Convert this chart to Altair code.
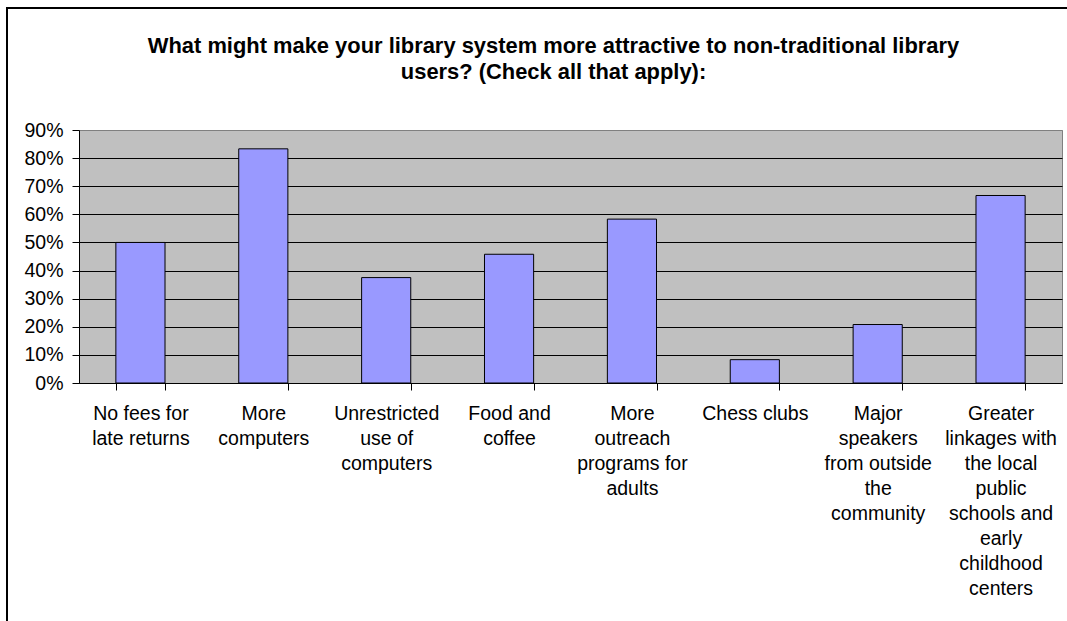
import altair as alt
import pandas as pd

categories = [
    "No fees for\nlate returns",
    "More\ncomputers",
    "Unrestricted\nuse of\ncomputers",
    "Food and\ncoffee",
    "More\noutreach\nprograms for\nadults",
    "Chess clubs",
    "Major\nspeakers\nfrom outside\nthe\ncommunity",
    "Greater\nlinkages with\nthe local\npublic\nschools and\nearly\nchildhood\ncenters",
]
shares = [0.50, 0.833, 0.375, 0.458, 0.583, 0.083, 0.208, 0.667]
y_ticks = [0, 0.1, 0.2, 0.3, 0.4, 0.5, 0.6, 0.7, 0.8, 0.9]
title_lines = [
    "What might make your library system more attractive to non-traditional library",
    "users? (Check all that apply):",
]

df = pd.DataFrame({"category": categories, "share": shares})

FONT = "Liberation Sans"
W, H = 983, 253

bars = alt.Chart(df).mark_bar(
    color="#9999FF", stroke="black", strokeWidth=1
).encode(
    x=alt.X(
        "category:N",
        sort=None,
        title=None,
        scale=alt.Scale(paddingInner=0.6, paddingOuter=0.3),
        axis=alt.Axis(
            labelAngle=0,
            labelExpr="split(datum.label, '\\n')",
            labelBaseline="top",
            labelAlign="center",
            labelLineHeight=25,
            labelPadding=14,
            labelLimit=0,
            tickBand="extent",
            tickSize=7,
            grid=False,
        ),
    ),
    y=alt.Y(
        "share:Q",
        title=None,
        scale=alt.Scale(domain=[0, 0.9], nice=False),
        axis=alt.Axis(
            values=y_ticks,
            format=".0%",
            tickSize=7,
            labelPadding=9,
            grid=True,
            gridColor=alt.condition("datum.value >= 0.89", alt.value("#808080"), alt.value("black")),
            gridWidth=1,
        ),
    ),
)

frame = alt.Chart(alt.Data(values=[{}])).mark_rect(
    fill=None, stroke="black", strokeWidth=2
).encode(
    x=alt.value(-72), x2=alt.value(W + 200),
    y=alt.value(-122), y2=alt.value(H + 400),
)

chart = alt.layer(bars, frame).properties(
    width=W,
    height=H,
    autosize=alt.AutoSizeParams(type="none"),
    padding={"left": 79, "top": 130, "right": 5, "bottom": 238},
    title=alt.TitleParams(
        text=title_lines,
        anchor="middle",
        dx=-17,
        offset=-77,
        fontSize=21.9,
        fontWeight="bold",
        font=FONT,
        color="black",
        lineHeight=26,
    ),
).configure(
    background="white",
).configure_view(
    fill="#C0C0C0", stroke="#808080", strokeWidth=1
).configure_axis(
    labelFont=FONT,
    labelFontSize=19.5,
    labelColor="black",
    domainColor="black",
    tickColor="black",
    domainWidth=1,
    tickWidth=1,
)

chart.save("out.html", embed_options={"renderer": "svg", "actions": False})
